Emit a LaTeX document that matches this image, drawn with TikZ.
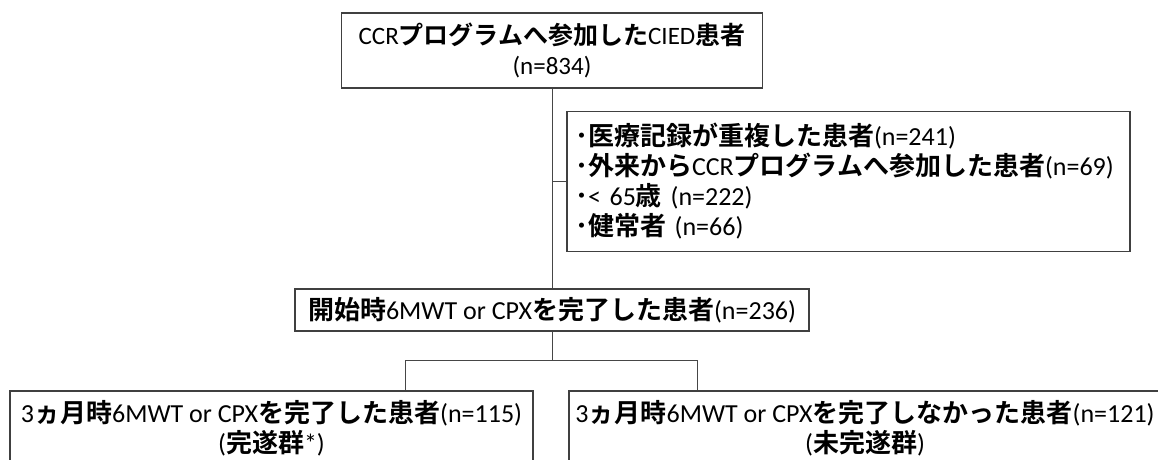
\documentclass[tikz,border=0pt]{standalone}
\usepackage{fontspec}
\setmainfont{Carlito}
\newfontfamily\jp{Noto Sans CJK JP}[BoldFont={Noto Sans CJK JP Bold}]
\newcommand\J[1]{{\jp\bfseries #1}}
\definecolor{boxgray}{RGB}{64,64,64}
\definecolor{linegray}{RGB}{70,70,70}
\begin{document}
\begin{tikzpicture}[x=1pt,y=-1pt,
  box/.style={draw=boxgray, line width=1.2pt, inner sep=0pt, align=center,
    font=\fontsize{26}{30}\selectfont},
  conn/.style={draw=linegray, line width=1pt}]
\useasboundingbox (0,0) rectangle (1158,459);
\clip (0,0) rectangle (1158,459);
\node[box, minimum width=421pt, minimum height=75pt, font=\fontsize{25}{30}\selectfont] (top) at (552,50.5)
  {CCR\J{プログラムへ参加した}CIED\J{患者}\\(n=834)};
\node[box, align=left, text width=547pt, inner xsep=8pt, minimum height=140pt] (excl) at (848.5,181.5)
  {\J{･医療記録が重複した患者}(n=241)\\\J{･外来から}CCR\J{プログラムへ参加した患者}(n=69)\\\J{･}< 65\J{歳} (n=222)\\\J{･健常者} (n=66)};
\node[box, minimum width=514pt, minimum height=42pt] (mid) at (552,310)
  {\J{開始時}6MWT or CPX\J{を完了した患者}(n=236)};
\node[box, minimum width=523pt, minimum height=74pt] (bl) at (271.5,428)
  {3\J{ヵ月時}6MWT or CPX\J{を完了した患者}(n=115)\\(\J{完遂群}*)};
\node[box, minimum width=592pt, minimum height=74pt] (br) at (865,428)
  {3\J{ヵ月時}6MWT or CPX\J{を完了しなかった患者}(n=121)\\(\J{未完遂群})};
\coordinate (jx) at (top.south |- excl.west);
\coordinate (bL) at (405,360);
\coordinate (bR) at (697,360);
\draw[conn] (top.south) -- (top.south |- mid.north);
\draw[conn] (jx) -- (excl.west);
\draw[conn] (mid.south) -- (mid.south |- bL);
\draw[conn] (bL) -- (bR);
\draw[conn] (bL) -- (bL |- bl.north);
\draw[conn] (bR) -- (bR |- br.north);
\end{tikzpicture}
\end{document}
